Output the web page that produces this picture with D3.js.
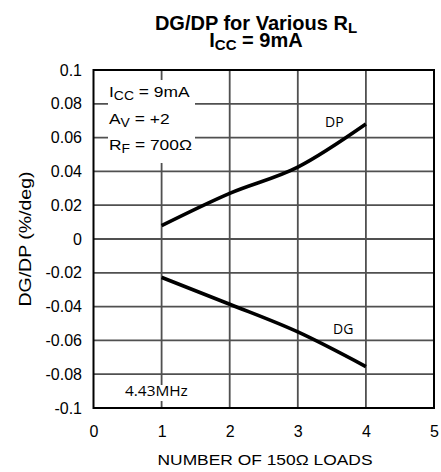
<!DOCTYPE html>
<html><head><meta charset="utf-8">
<script src="https://cdn.jsdelivr.net/npm/d3@7"></script>
<style>body{margin:0;background:#fff}svg{display:block}</style>
</head><body>
<svg id="c" width="441" height="472"></svg>
<script>
const loads = [1, 2, 3, 4];
const dpValues = [0.0079, 0.027, 0.0425, 0.068];
const dgValues = [-0.0227, -0.0386, -0.055, -0.0755];
const xTicks = [0, 1, 2, 3, 4, 5];
const yTicks = [-0.1, -0.08, -0.06, -0.04, -0.02, 0, 0.02, 0.04, 0.06, 0.08, 0.1];

const svg = d3.select("#c");
const L = 93.5, R = 434, T = 70, B = 408;
const x = d3.scaleLinear().domain([0, 5]).range([L, R]);
const y = d3.scaleLinear().domain([-0.1, 0.1]).range([B, T]);
const ARIAL = "'Liberation Sans', Arial, sans-serif";
const SOFT = "'Open Sans', sans-serif";

// helper: horizontally stretched text
function stext(px, py, sx, size, family, anchor, rot) {
  const grp = svg.append("g").attr("transform", `translate(${px},${py})${rot ? ` rotate(${rot})` : ""} scale(${sx},1)`);
  return grp.append("text").attr("font-family", family).attr("font-size", size)
    .attr("text-anchor", anchor || "start").attr("fill", "#000");
}

// grid
const g = svg.append("g");
g.selectAll("line.h").data(yTicks.slice(1, -1)).join("line")
  .attr("x1", L).attr("x2", R).attr("y1", d => y(d)).attr("y2", d => y(d))
  .attr("stroke", "#505050").attr("stroke-width", 1.8);
g.selectAll("line.v").data(xTicks.slice(1, -1)).join("line")
  .attr("y1", T).attr("y2", B).attr("x1", d => x(d)).attr("x2", d => x(d))
  .attr("stroke", "#505050").attr("stroke-width", 1.8);

// white label boxes
svg.append("rect").attr("x", 108).attr("y", 80).attr("width", 87).attr("height", 83).attr("fill", "#fff");
svg.append("rect").attr("x", 120).attr("y", 385).attr("width", 75).attr("height", 16).attr("fill", "#fff");

// frame
svg.append("rect").attr("x", L).attr("y", T).attr("width", R - L).attr("height", B - T)
  .attr("fill", "none").attr("stroke", "#000").attr("stroke-width", 2);

// axes labels
const yAxis = d3.axisLeft(y).tickValues(yTicks).tickSize(0).tickPadding(11.5)
  .tickFormat(d => d === 0 ? "0" : String(+d.toFixed(2)));
const ya = svg.append("g").attr("transform", `translate(${L},0)`).call(yAxis);
ya.select(".domain").remove();
ya.selectAll("text").attr("font-family", ARIAL).attr("font-size", 16).attr("fill", "#000");

const xAxis = d3.axisBottom(x).tickValues(xTicks).tickSize(0).tickPadding(18).tickFormat(d3.format("d"));
const xa = svg.append("g").attr("transform", `translate(0,${B})`).call(xAxis);
xa.select(".domain").remove();
xa.selectAll("text").attr("font-family", ARIAL).attr("font-size", 16).attr("fill", "#000");

// lines
const line = d3.line().x(d => x(d[0])).y(d => y(d[1])).curve(d3.curveMonotoneX);
[dpValues, dgValues].forEach(vals => {
  svg.append("path").datum(loads.map((l, i) => [l, vals[i]]))
    .attr("d", line).attr("fill", "none").attr("stroke", "#000").attr("stroke-width", 3.6);
});

// curve labels
stext(325, 127, 1, 14, SOFT).text("DP");
stext(333, 334, 1, 14, SOFT).text("DG");
stext(125, 396, 1.1, 14, SOFT).text("4.43MHz");

// condition text
function sub(sel, main, s, rest, size) {
  sel.append("tspan").text(main);
  sel.append("tspan").attr("font-size", size * 0.8).attr("dy", 3).text(s);
  sel.append("tspan").attr("dy", -3).text(rest);
}
[["I", "CC", " = 9mA", 97], ["A", "V", " = +2", 124], ["R", "F", " = 700Ω", 150]].forEach(r => {
  sub(stext(109, r[3], 1.16, 15, ARIAL), r[0], r[1], r[2], 15);
});

// title (one text element, two lines)
const t = svg.append("text").attr("y", 30).attr("text-anchor", "middle")
  .attr("font-family", ARIAL).attr("font-weight", "bold").attr("font-size", 20);
t.append("tspan").attr("x", 256).attr("y", 30).text("DG/DP for Various R");
t.append("tspan").attr("font-size", 15).attr("dy", 3).text("L");
t.append("tspan").attr("x", 256).attr("y", 47).text("I");
t.append("tspan").attr("font-size", 15).attr("dy", 3).text("CC");
t.append("tspan").attr("dy", -3).text(" = 9mA");

// axis titles
stext(265, 465, 1.16, 15, ARIAL, "middle").text("NUMBER OF 150Ω LOADS");
stext(31, 239, 1.22, 16, ARIAL, "middle", -90).text("DG/DP (%/deg)");
</script>
</body></html>
